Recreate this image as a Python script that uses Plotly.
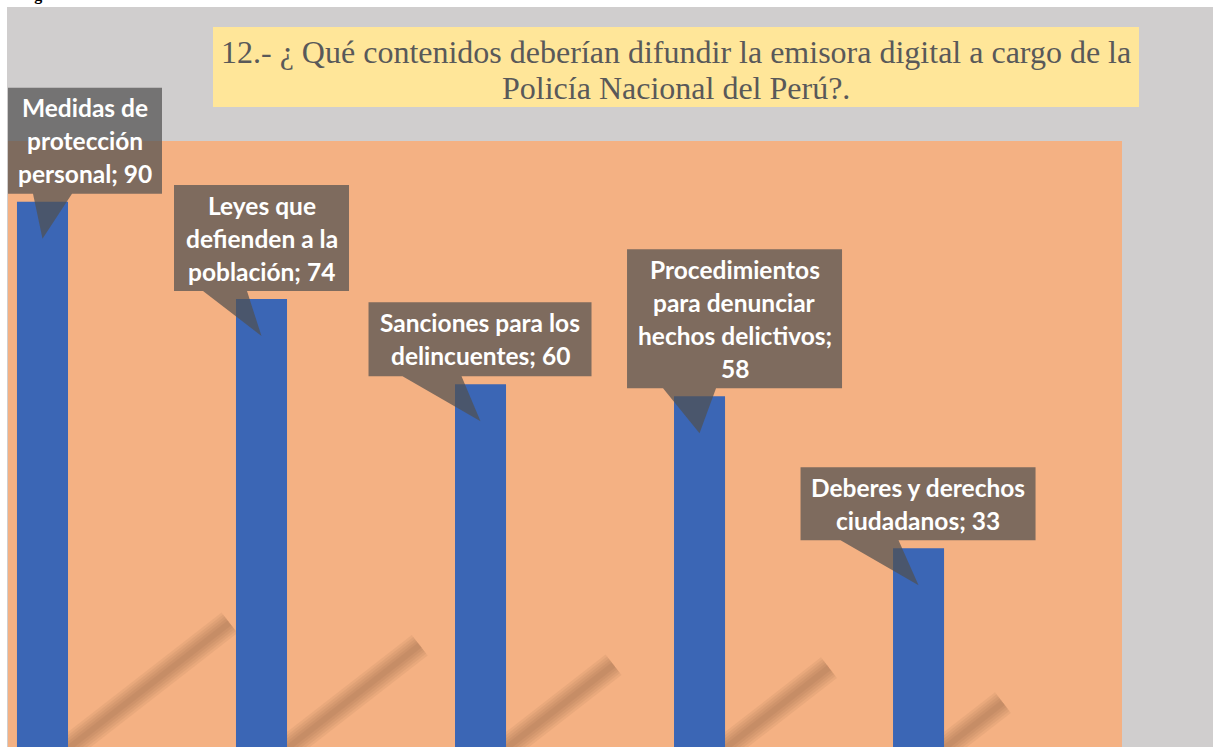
import textwrap
import plotly.graph_objects as go

# data
categories = [
    "Medidas de protección personal",
    "Leyes que defienden a la población",
    "Sanciones para los delincuentes",
    "Procedimientos para denunciar hechos delictivos",
    "Deberes y derechos ciudadanos",
]
values = [90, 74, 60, 58, 33]

title_lines = [
    "12.- ¿ Qué contenidos deberían difundir la emisora digital a cargo de la",
    "Policía Nacional del Perú?.",
]

# label styling: wrap width and callout box (pixels relative to bar center / bar top, up = +)
wrap_widths = [12, 15, 18, 18, 18]
boxes = [  # left, right, top, wedge base left, wedge base right
    (-34.5, 119.5, 114, -9.5, 29.5),
    (-87.5, 87.5, 114, -58.5, -14.5),
    (-112, 111, 82, -78, -19),
    (-72.5, 142.5, 147, -36.5, 16.5),
    (-118, 117, 81, -78, -20),
]

W, H = 1217, 747
ML, MR, MT, MB = 8, 95, 141, 0
XR = [-0.1575, 4.929]
YR = [0.3, 100]
PW, PH = W - ML - MR, H - MT - MB

fig = go.Figure(go.Bar(
    x=categories, y=values, width=0.233,
    marker=dict(color="#3B66B5", line=dict(width=0)),
    hoverinfo="x+y",
))

shapes = []
annotations = []

# white page strips around the grey chart area
for x0, x1, y0, y1 in [(-ML, -ML + 7, -0.01, 1.3), (-ML, W, 1.221, 1.3), (1205, W, -0.01, 1.3)]:
    shapes.append(dict(type="rect", xref="paper", yref="paper",
                       x0=x0 / PW, x1=x1 / PW, y0=y0, y1=y1,
                       fillcolor="white", line_width=0, layer="below"))

# soft shadows behind the bars
for i, v in enumerate(values):
    for lw in (26, 21, 16, 11, 6):
        shapes.append(dict(type="line", xref="x", yref="y", xsizemode="pixel", ysizemode="pixel",
                           xanchor=i, yanchor=0, x0=25, y0=0, x1=25 + 1.8 * v, y1=1.4 * v,
                           line=dict(color="rgba(120,80,50,0.08)", width=lw), layer="below"))

# callouts
for i, (cat, v) in enumerate(zip(categories, values)):
    px = (i - XR[0]) / (XR[1] - XR[0])
    py = (v - YR[0]) / (YR[1] - YR[0])
    l, r, t, w0, w1 = boxes[i]
    b = 8
    path = f"M{l},{t} L{r},{t} L{r},{b} L{w1},{b} L0,-37 L{w0},{b} L{l},{b} Z"
    shapes.append(dict(type="path", xref="paper", yref="paper", xsizemode="pixel", ysizemode="pixel",
                       xanchor=px, yanchor=py, path=path,
                       fillcolor="rgba(80,80,80,0.72)", line_width=0, layer="above"))
    lines = textwrap.wrap(f"{cat}; {v}", wrap_widths[i])
    cx = (l + r) / 2
    cy = (t + b) / 2
    n = len(lines)
    for j, ln in enumerate(lines):
        annotations.append(dict(xref="paper", yref="paper", x=px, y=py, text=ln, showarrow=False,
                                xanchor="center", yanchor="middle",
                                xshift=cx, yshift=cy - (j - (n - 1) / 2) * 33,
                                font=dict(family="Lato", size=24.5, color="white", weight="bold")))

# title box
shapes.append(dict(type="rect", xref="paper", yref="paper",
                   x0=(213 - ML) / PW, x1=(1139 - ML) / PW,
                   y0=(H - 107) / PH, y1=(H - 27) / PH,
                   fillcolor="#FFE699", line_width=0, layer="above"))
for j, ln in enumerate(title_lines):
    annotations.append(dict(xref="paper", yref="paper", x=(676 - ML) / PW, y=(H - (52 + 36 * j)) / PH,
                            text=ln, showarrow=False, xanchor="center", yanchor="middle",
                            font=dict(family="Liberation Serif", size=32, color="#595959")))

# cut-off caption at the very top
annotations.append(dict(xref="paper", yref="paper", x=(18 - ML) / PW, y=(H - 6) / PH,
                        text="Figura", showarrow=False, xanchor="left", yanchor="bottom",
                        font=dict(family="Liberation Serif", size=16, color="black", weight="bold")))

fig.update_layout(
    width=W, height=H,
    margin=dict(l=ML, r=MR, t=MT, b=MB),
    paper_bgcolor="#D0CECE", plot_bgcolor="#F4B183",
    xaxis=dict(range=XR, showticklabels=False, showgrid=False, zeroline=False, fixedrange=True),
    yaxis=dict(range=YR, showticklabels=False, showgrid=False, zeroline=False, fixedrange=True),
    showlegend=False,
    shapes=shapes,
    annotations=annotations,
)

# page has no body margin so the figure fills the window exactly
fig.write_html("out.html", config=dict(displayModeBar=False),
               post_script="document.body.style.margin='0';")
